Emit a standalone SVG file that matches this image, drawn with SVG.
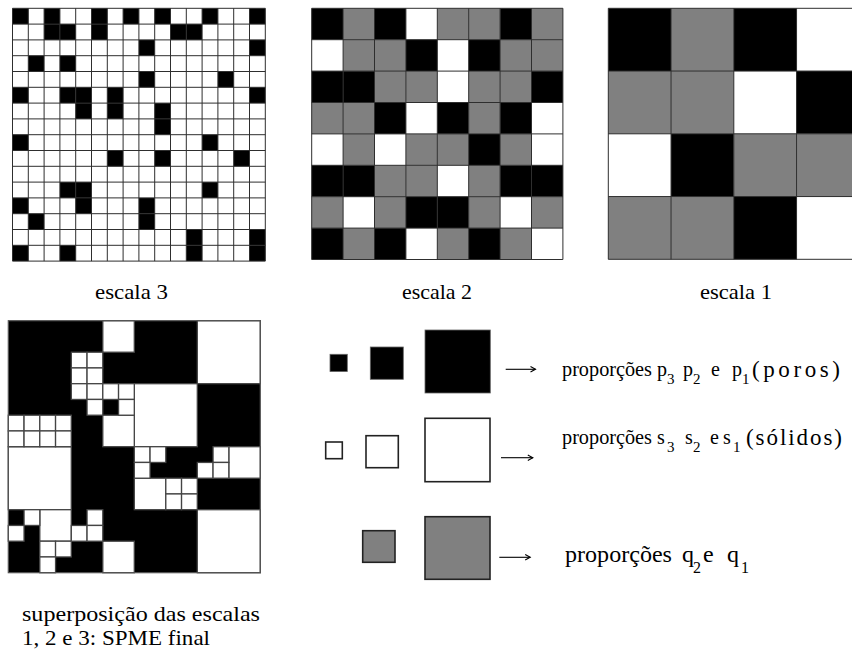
<svg xmlns="http://www.w3.org/2000/svg" width="852" height="660" viewBox="0 0 852 660">
<style>
.k{fill:#000}
.gr{fill:#808080}
.w{fill:#fff}
.grid{fill:none;stroke:#2e2e2e;stroke-width:1}
.frame{fill:none;stroke:#555;stroke-width:1.2}
.sw{fill:#fff;stroke:#444;stroke-width:1.3}
.lk{fill:#000;stroke:#666;stroke-width:0.8}
.lw{fill:#fff;stroke:#222;stroke-width:1.6}
.lg{fill:#808080;stroke:#222;stroke-width:1.6}
.t{font-family:"Liberation Serif","Times New Roman",serif;fill:#000}
.arr{fill:none;stroke:#000;stroke-width:1.1}
</style>
<defs>
<rect id="c3" width="15.8" height="15.8"/>
<rect id="c2" width="31.4" height="31.4"/>
<rect id="c1" width="62.75" height="62.75"/>
<rect id="s3" width="15.75" height="15.75"/>
<rect id="s2" width="31.5" height="31.5"/>
<rect id="s1" width="63" height="63"/>
<marker id="ah" markerWidth="8" markerHeight="8" refX="6" refY="3.5" orient="auto" markerUnits="userSpaceOnUse">
<path d="M1,0.8 L6,3.5 L1,6.2" fill="none" stroke="#000" stroke-width="1.1"/>
</marker>
</defs>
<rect width="852" height="660" fill="#fff"/>

<g id="escala3" transform="translate(12.5,8.3)">
<rect class="w" width="252.8" height="252.8"/>
<g class="k">
<use href="#c3" x="0" y="0"/><use href="#c3" x="31.6" y="0"/><use href="#c3" x="79" y="0"/><use href="#c3" x="110.6" y="0"/><use href="#c3" x="142.2" y="0"/><use href="#c3" x="189.6" y="0"/><use href="#c3" x="237" y="0"/>
<use href="#c3" x="31.6" y="15.8"/><use href="#c3" x="47.4" y="15.8"/><use href="#c3" x="79" y="15.8"/><use href="#c3" x="158" y="15.8"/><use href="#c3" x="173.8" y="15.8"/>
<use href="#c3" x="126.4" y="31.6"/><use href="#c3" x="237" y="31.6"/>
<use href="#c3" x="15.8" y="47.4"/><use href="#c3" x="47.4" y="47.4"/>
<use href="#c3" x="126.4" y="63.2"/><use href="#c3" x="205.4" y="63.2"/>
<use href="#c3" x="0" y="79"/><use href="#c3" x="47.4" y="79"/><use href="#c3" x="63.2" y="79"/><use href="#c3" x="94.8" y="79"/><use href="#c3" x="237" y="79"/>
<use href="#c3" x="63.2" y="94.8"/><use href="#c3" x="94.8" y="94.8"/><use href="#c3" x="142.2" y="94.8"/>
<use href="#c3" x="142.2" y="110.6"/>
<use href="#c3" x="0" y="126.4"/><use href="#c3" x="189.6" y="126.4"/>
<use href="#c3" x="94.8" y="142.2"/><use href="#c3" x="142.2" y="142.2"/><use href="#c3" x="221.2" y="142.2"/>
<use href="#c3" x="47.4" y="173.8"/><use href="#c3" x="63.2" y="173.8"/><use href="#c3" x="189.6" y="173.8"/>
<use href="#c3" x="0" y="189.6"/><use href="#c3" x="63.2" y="189.6"/><use href="#c3" x="126.4" y="189.6"/>
<use href="#c3" x="15.8" y="205.4"/><use href="#c3" x="126.4" y="205.4"/>
<use href="#c3" x="173.8" y="221.2"/><use href="#c3" x="237" y="221.2"/>
<use href="#c3" x="0" y="237"/><use href="#c3" x="47.4" y="237"/><use href="#c3" x="173.8" y="237"/><use href="#c3" x="237" y="237"/>
</g>
<path class="grid" d="M0,0V252.8M15.8,0V252.8M31.6,0V252.8M47.4,0V252.8M63.2,0V252.8M79,0V252.8M94.8,0V252.8M110.6,0V252.8M126.4,0V252.8M142.2,0V252.8M158,0V252.8M173.8,0V252.8M189.6,0V252.8M205.4,0V252.8M221.2,0V252.8M237,0V252.8M252.8,0V252.8M0,0H252.8M0,15.8H252.8M0,31.6H252.8M0,47.4H252.8M0,63.2H252.8M0,79H252.8M0,94.8H252.8M0,110.6H252.8M0,126.4H252.8M0,142.2H252.8M0,158H252.8M0,173.8H252.8M0,189.6H252.8M0,205.4H252.8M0,221.2H252.8M0,237H252.8M0,252.8H252.8"/>
</g>

<g id="escala2" transform="translate(311.7,8.3)">
<rect class="w" width="251.2" height="251.2"/>
<g class="k">
<use href="#c2" x="0" y="0"/><use href="#c2" x="62.8" y="0"/><use href="#c2" x="188.4" y="0"/>
<use href="#c2" x="94.2" y="31.4"/><use href="#c2" x="157" y="31.4"/>
<use href="#c2" x="0" y="62.8"/><use href="#c2" x="31.4" y="62.8"/><use href="#c2" x="219.8" y="62.8"/>
<use href="#c2" x="62.8" y="94.2"/><use href="#c2" x="125.6" y="94.2"/><use href="#c2" x="188.4" y="94.2"/>
<use href="#c2" x="157" y="125.6"/>
<use href="#c2" x="0" y="157"/><use href="#c2" x="31.4" y="157"/><use href="#c2" x="188.4" y="157"/><use href="#c2" x="219.8" y="157"/>
<use href="#c2" x="94.2" y="188.4"/><use href="#c2" x="125.6" y="188.4"/>
<use href="#c2" x="0" y="219.8"/><use href="#c2" x="62.8" y="219.8"/><use href="#c2" x="157" y="219.8"/>
</g>
<g class="gr">
<use href="#c2" x="31.4" y="0"/><use href="#c2" x="125.6" y="0"/><use href="#c2" x="157" y="0"/><use href="#c2" x="219.8" y="0"/>
<use href="#c2" x="31.4" y="31.4"/><use href="#c2" x="62.8" y="31.4"/><use href="#c2" x="188.4" y="31.4"/><use href="#c2" x="219.8" y="31.4"/>
<use href="#c2" x="62.8" y="62.8"/><use href="#c2" x="94.2" y="62.8"/><use href="#c2" x="157" y="62.8"/><use href="#c2" x="188.4" y="62.8"/>
<use href="#c2" x="0" y="94.2"/><use href="#c2" x="31.4" y="94.2"/><use href="#c2" x="157" y="94.2"/>
<use href="#c2" x="31.4" y="125.6"/><use href="#c2" x="94.2" y="125.6"/><use href="#c2" x="125.6" y="125.6"/><use href="#c2" x="188.4" y="125.6"/>
<use href="#c2" x="62.8" y="157"/><use href="#c2" x="94.2" y="157"/><use href="#c2" x="157" y="157"/>
<use href="#c2" x="0" y="188.4"/><use href="#c2" x="62.8" y="188.4"/><use href="#c2" x="157" y="188.4"/><use href="#c2" x="219.8" y="188.4"/>
<use href="#c2" x="31.4" y="219.8"/><use href="#c2" x="125.6" y="219.8"/><use href="#c2" x="188.4" y="219.8"/>
</g>
<path class="grid" d="M0,0V251.2M31.4,0V251.2M62.8,0V251.2M94.2,0V251.2M125.6,0V251.2M157,0V251.2M188.4,0V251.2M219.8,0V251.2M251.2,0V251.2M0,0H251.2M0,31.4H251.2M0,62.8H251.2M0,94.2H251.2M0,125.6H251.2M0,157H251.2M0,188.4H251.2M0,219.8H251.2M0,251.2H251.2"/>
</g>

<g id="escala1" transform="translate(608.3,8.3)">
<rect class="w" width="251" height="251"/>
<g class="k">
<use href="#c1" x="0" y="0"/><use href="#c1" x="125.5" y="0"/>
<use href="#c1" x="188.25" y="62.75"/>
<use href="#c1" x="62.75" y="125.5"/>
<use href="#c1" x="125.5" y="188.25"/>
</g>
<g class="gr">
<use href="#c1" x="62.75" y="0"/>
<use href="#c1" x="0" y="62.75"/><use href="#c1" x="62.75" y="62.75"/>
<use href="#c1" x="125.5" y="125.5"/><use href="#c1" x="188.25" y="125.5"/>
<use href="#c1" x="0" y="188.25"/><use href="#c1" x="62.75" y="188.25"/>
</g>
<path class="grid" d="M0,0V251M62.75,0V251M125.5,0V251M188.25,0V251M0,0H251M0,62.75H251M0,125.5H251M0,188.25H251M0,251H251"/>
</g>

<g id="superposicao" transform="translate(8.3,320.7)">
<rect class="k" width="252" height="252"/>
<g class="sw">
<use href="#s1" x="189" y="0"/><use href="#s1" x="126" y="63"/><use href="#s1" x="0" y="126"/><use href="#s1" x="189" y="189"/>
<use href="#s2" x="94.5" y="0"/><use href="#s2" x="94.5" y="94.5"/><use href="#s2" x="126" y="157.5"/><use href="#s2" x="220.5" y="126"/><use href="#s2" x="31.5" y="189"/><use href="#s2" x="94.5" y="220.5"/>
<use href="#s3" x="63" y="31.5"/><use href="#s3" x="78.75" y="31.5"/><use href="#s3" x="63" y="47.25"/><use href="#s3" x="78.75" y="47.25"/>
<use href="#s3" x="0" y="94.5"/><use href="#s3" x="15.75" y="94.5"/><use href="#s3" x="0" y="110.25"/><use href="#s3" x="15.75" y="110.25"/>
<use href="#s3" x="31.5" y="94.5"/><use href="#s3" x="47.25" y="94.5"/><use href="#s3" x="31.5" y="110.25"/><use href="#s3" x="47.25" y="110.25"/>
<use href="#s3" x="63" y="63"/><use href="#s3" x="78.75" y="63"/><use href="#s3" x="78.75" y="78.75"/>
<use href="#s3" x="94.5" y="63"/><use href="#s3" x="110.25" y="63"/><use href="#s3" x="110.25" y="78.75"/>
<use href="#s3" x="126" y="126"/><use href="#s3" x="141.75" y="126"/><use href="#s3" x="126" y="141.75"/>
<use href="#s3" x="157.5" y="157.5"/><use href="#s3" x="173.25" y="157.5"/><use href="#s3" x="157.5" y="173.25"/><use href="#s3" x="173.25" y="173.25"/>
<use href="#s3" x="204.75" y="126"/><use href="#s3" x="189" y="141.75"/><use href="#s3" x="204.75" y="141.75"/>
<use href="#s3" x="15.75" y="189"/><use href="#s3" x="0" y="204.75"/>
<use href="#s3" x="31.5" y="220.5"/><use href="#s3" x="47.25" y="220.5"/><use href="#s3" x="31.5" y="236.25"/>
<use href="#s3" x="78.75" y="189"/><use href="#s3" x="63" y="204.75"/><use href="#s3" x="78.75" y="204.75"/>
</g>
<rect class="frame" width="252" height="252"/>
</g>

<g id="legenda-poros">
<rect class="lk" x="330" y="354.3" width="17.3" height="17.3"/>
<rect class="lk" x="370.3" y="347" width="33" height="32.3"/>
<rect class="lk" x="425" y="330" width="65.3" height="63"/>
</g>
<g id="legenda-solidos">
<rect class="lw" x="325.7" y="442" width="16.6" height="16.7"/>
<rect class="lw" x="366" y="435.7" width="32.3" height="32"/>
<rect class="lw" x="425" y="418.3" width="65" height="63.4"/>
</g>
<g id="legenda-q">
<rect class="lg" x="362.7" y="530.7" width="32.3" height="31.6"/>
<rect class="lg" x="425" y="516.7" width="65" height="62.6"/>
</g>

<g id="connectors">
<path class="arr" d="M505.7,369.3H535.5" marker-end="url(#ah)"/>
<path class="arr" d="M501,457.7H532.8" marker-end="url(#ah)"/>
<path class="arr" d="M499.3,557.3H530.2" marker-end="url(#ah)"/>
</g>

<g id="rotulos" class="t" font-family="'Liberation Serif', 'Times New Roman', serif">
<text x="95" y="299" font-size="21" textLength="73" lengthAdjust="spacingAndGlyphs">escala 3</text>
<text x="402" y="299" font-size="21" textLength="70" lengthAdjust="spacingAndGlyphs">escala 2</text>
<text x="700" y="299" font-size="21" textLength="72" lengthAdjust="spacingAndGlyphs">escala 1</text>
<text x="22" y="621" font-size="22" textLength="238" lengthAdjust="spacingAndGlyphs">superposição das escalas</text>
<text x="22" y="645" font-size="22" textLength="188" lengthAdjust="spacingAndGlyphs">1, 2 e 3: SPME final</text>

<text x="562" y="376" font-size="20" textLength="90" lengthAdjust="spacingAndGlyphs">proporções</text>
<text x="657" y="376" font-size="20">p</text><text x="667" y="384" font-size="15">3</text>
<text x="683" y="376" font-size="20">p</text><text x="693" y="384" font-size="15">2</text>
<text x="711" y="376" font-size="20">e</text>
<text x="732" y="376" font-size="20">p</text><text x="742" y="384" font-size="15">1</text>
<text x="752" y="377" font-size="23" textLength="88" lengthAdjust="spacing">(poros)</text>

<text x="562" y="444" font-size="20" textLength="90" lengthAdjust="spacingAndGlyphs">proporções</text>
<text x="657" y="444" font-size="20">s</text><text x="667" y="452" font-size="15">3</text>
<text x="685" y="444" font-size="20">s</text><text x="693" y="452" font-size="15">2</text>
<text x="710" y="444" font-size="20">e</text>
<text x="723" y="444" font-size="20">s</text><text x="733" y="452" font-size="15">1</text>
<text x="746" y="445" font-size="23" textLength="96" lengthAdjust="spacing">(sólidos)</text>

<text x="565" y="562" font-size="24" textLength="107" lengthAdjust="spacingAndGlyphs">proporções</text>
<text x="682" y="562" font-size="24">q</text><text x="693" y="573" font-size="16">2</text>
<text x="703" y="562" font-size="24">e</text>
<text x="727" y="562" font-size="24">q</text><text x="741" y="573" font-size="16">1</text>
</g>
</svg>
